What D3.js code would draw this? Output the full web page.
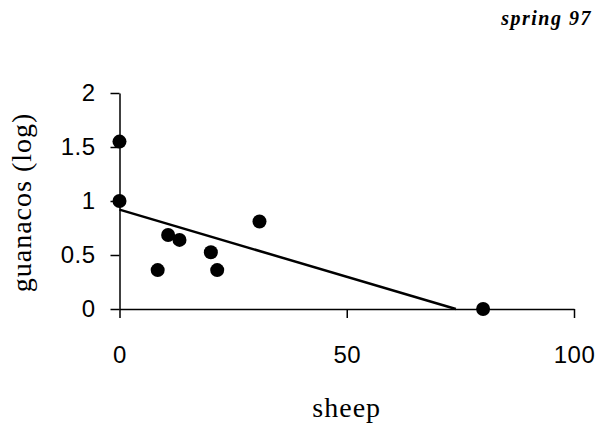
<!DOCTYPE html>
<html>
<head>
<meta charset="utf-8">
<script src="https://cdn.jsdelivr.net/npm/d3@7"></script>
<style>
  body { margin: 0; background: #fff; }
  .axis path, .axis line { stroke: #000; stroke-width: 1.5; }
  .axis text { font-family: "Liberation Sans", Arial, sans-serif; font-size: 24px; fill: #000; letter-spacing: 0.5px; }
</style>
</head>
<body>
<div id="chart"></div>
<script>
// scatter of guanacos vs sheep, spring 97

// data
const sheep = [0, 0, 8.4, 10.7, 13.2, 20.1, 21.5, 30.8, 80];
const guanacos = [1.55, 1.0, 0.36, 0.685, 0.64, 0.525, 0.36, 0.81, 0];
const fitX = [0, 74];        // fitted line ends
const fitY = [0.92, 0];
const xTicks = [0, 50, 100];
const yTicks = [0, 0.5, 1, 1.5, 2];

const w = 607, h = 434;

const x = d3.scaleLinear().domain([0, 100]).range([119.5, 574]);
const y = d3.scaleLinear().domain([0, 2]).range([309, 93]);

const svg = d3.select("#chart")
	.append("svg")
	.attr("width", w)
	.attr("height", h);

// axes
svg.append("g")
	.attr("class", "axis")
	.attr("transform", `translate(0,${y(0)})`)
	.call(d3.axisBottom(x).tickValues(xTicks).tickSize(9).tickSizeOuter(0).tickPadding(28).tickFormat(d3.format("d")));

svg.append("g")
	.attr("class", "axis")
	.attr("transform", `translate(${x(0)},0)`)
	.call(d3.axisLeft(y).tickValues(yTicks).tickSize(9).tickSizeOuter(0).tickPadding(15).tickFormat(d => String(d)));

// fitted line
svg.append("path")
	.datum(fitX.map((d, i) => [d, fitY[i]]))
	.attr("fill", "none")
	.attr("stroke", "#000")
	.attr("stroke-width", 2.5)
	.attr("d", d3.line().x(d => x(d[0])).y(d => y(d[1])));

// points
svg.append("g")
	.selectAll("circle")
	.data(sheep.map((d, i) => [d, guanacos[i]]))
	.join("circle")
		.attr("cx", d => x(d[0]))
		.attr("cy", d => y(d[1]))
		.attr("r", 7)
		.attr("fill", "#000");

// axis titles
svg.append("text")
	.attr("x", (x(0) + x(100)) / 2 + 0)
	.attr("y", 417)
	.attr("text-anchor", "middle")
	.style("font-family", "'Liberation Serif', 'Times New Roman', serif")
	.style("font-size", "28px")
	.style("letter-spacing", "1px")
	.text("sheep");

svg.append("text")
	.attr("transform", `translate(31,${(112 + 293) / 2}) rotate(-90)`)
	.attr("text-anchor", "middle")
	.style("font-family", "'Liberation Serif', 'Times New Roman', serif")
	.style("font-size", "28px")
	.style("letter-spacing", "1px")
	.text("guanacos (log)");

// panel title
svg.append("text")
	.attr("x", 592)
	.attr("y", 25)
	.attr("text-anchor", "end")
	.style("font-family", "'Liberation Serif', 'Times New Roman', serif")
	.style("font-size", "20px")
	.style("font-weight", "bold")
	.style("font-style", "italic")
	.style("letter-spacing", "1.5px")
	.text("spring 97");
</script>
</body>
</html>
